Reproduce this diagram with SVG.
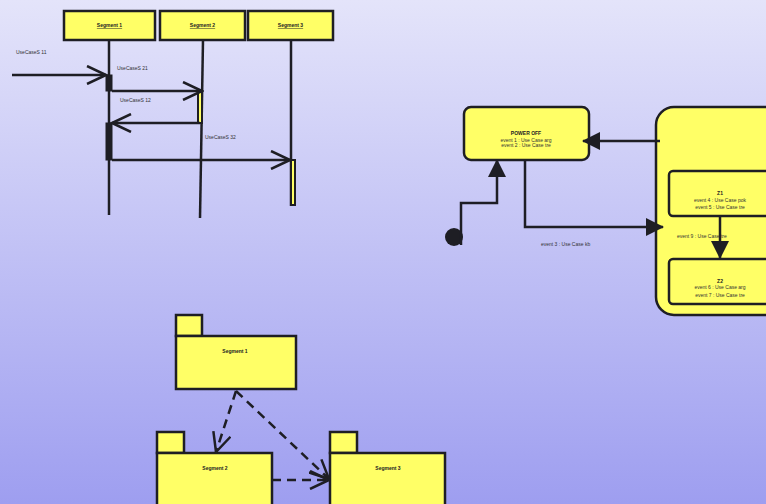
<svg xmlns="http://www.w3.org/2000/svg" width="766" height="504" viewBox="0 0 766 504">
<defs>
<linearGradient id="bg" x1="0" y1="0" x2="0" y2="1">
<stop offset="0" stop-color="#e4e4fa"/>
<stop offset="1" stop-color="#9e9ef0"/>
</linearGradient>
<marker id="open" viewBox="0 0 22 20" refX="20" refY="10" markerWidth="22" markerHeight="20" markerUnits="userSpaceOnUse" orient="auto">
<path d="M1,1 L20,10 L1,19" fill="none" stroke="#1e1e24" stroke-width="2.5"/>
</marker>
<marker id="filled" viewBox="0 0 18 18" refX="17" refY="9" markerWidth="18" markerHeight="18" markerUnits="userSpaceOnUse" orient="auto">
<path d="M0,0 L18,9 L0,18 Z" fill="#1e1e24"/>
</marker>
</defs>
<style>
.box{fill:#ffff66;stroke:#1e1e24;stroke-width:2.5}
.ln{fill:none;stroke:#1e1e24;stroke-width:2.5}
.dash{fill:none;stroke:#1e1e24;stroke-width:2.5;stroke-dasharray:9 6}
.t{font-family:"Liberation Sans",Arial,sans-serif;font-size:5px;fill:#333}
.b{font-family:"Liberation Sans",Arial,sans-serif;font-size:5px;font-weight:bold;fill:#222}
.act{fill:#1e1e24;stroke:#1e1e24;stroke-width:1}
</style>
<rect width="766" height="504" fill="url(#bg)"/>

<!-- Sequence diagram -->
<g id="seg1-head"><rect class="box" x="64" y="11" width="91" height="29"/><text class="b" x="109.5" y="27" text-anchor="middle" text-decoration="underline">Segment 1</text></g>
<g id="seg2-head"><rect class="box" x="160" y="11" width="85" height="29"/><text class="b" x="202.5" y="27" text-anchor="middle" text-decoration="underline">Segment 2</text></g>
<g id="seg3-head"><rect class="box" x="248" y="11" width="85" height="29"/><text class="b" x="290.5" y="27" text-anchor="middle" text-decoration="underline">Segment 3</text></g>
<g id="lifelines">
<line class="ln" x1="109" y1="40" x2="109" y2="215"/>
<line class="ln" x1="203" y1="40" x2="200" y2="218"/>
<line class="ln" x1="291" y1="40" x2="291" y2="206"/>
</g>
<g id="activations">
<rect class="act" x="106" y="75" width="6" height="16"/>
<rect class="box" x="198" y="91" width="4" height="32" style="stroke-width:2"/>
<rect class="act" x="106" y="123" width="6" height="37"/>
<rect class="box" x="291" y="160" width="4" height="45" style="stroke-width:2"/>
</g>
<g id="messages">
<line class="ln" x1="12" y1="75" x2="106" y2="75" marker-end="url(#open)"/>
<text class="t" x="16" y="54">UseCaseS 11</text>
<line class="ln" x1="112" y1="91" x2="202" y2="91" marker-end="url(#open)"/>
<text class="t" x="117" y="70">UseCaseS 21</text>
<line class="ln" x1="200" y1="123" x2="112" y2="123" marker-end="url(#open)"/>
<text class="t" x="120" y="102">UseCaseS 12</text>
<line class="ln" x1="112" y1="160" x2="290" y2="160" marker-end="url(#open)"/>
<text class="t" x="205" y="139">UseCaseS 32</text>
</g>

<!-- State diagram -->
<g id="poweroff"><rect class="box" x="464" y="107" width="125" height="53" rx="7"/>
<text class="b" x="526" y="135" text-anchor="middle">POWER OFF</text>
<text class="t" x="526" y="141.5" text-anchor="middle">event 1 : Use Case arg</text>
<text class="t" x="526" y="147" text-anchor="middle">event 2 : Use Case tre</text></g>
<g id="initial"><circle cx="454" cy="237" r="9" fill="#1e1e24"/></g>
<g id="composite"><rect class="box" x="656" y="107" width="130" height="208" rx="18"/></g>
<g id="z1"><rect class="box" x="669" y="171" width="110" height="45" rx="4"/>
<text class="b" x="720" y="194.5" text-anchor="middle">Z1</text>
<text class="t" x="720" y="202" text-anchor="middle">event 4 : Use Case pok</text>
<text class="t" x="720" y="208.5" text-anchor="middle">event 5 : Use Case tre</text></g>
<g id="z2"><rect class="box" x="669" y="259" width="110" height="45" rx="4"/>
<text class="b" x="720" y="282.5" text-anchor="middle">Z2</text>
<text class="t" x="720" y="289" text-anchor="middle">event 6 : Use Case arg</text>
<text class="t" x="720" y="297" text-anchor="middle">event 7 : Use Case tre</text></g>
<g id="state-transitions">
<polyline class="ln" points="461,245 461,203 497,203 497,160" marker-end="url(#filled)"/>
<polyline class="ln" points="525,160 525,227 663,227" marker-end="url(#filled)"/>
<text class="t" x="541" y="245.5">event 3 : Use Case kb</text>
<line class="ln" x1="660" y1="141" x2="583" y2="141" marker-end="url(#filled)"/>
<line class="ln" x1="720" y1="216" x2="720" y2="258" marker-end="url(#filled)"/>
<text class="t" x="677" y="238">event 9 : Use Case tre</text>
</g>

<!-- Package diagram -->
<g id="pkg1"><rect class="box" x="176" y="315" width="26" height="21"/><rect class="box" x="176" y="336" width="120" height="53"/>
<text class="b" x="235" y="353" text-anchor="middle">Segment 1</text></g>
<g id="pkg2"><rect class="box" x="157" y="432" width="27" height="21"/><rect class="box" x="157" y="453" width="115" height="60"/>
<text class="b" x="215" y="470" text-anchor="middle">Segment 2</text></g>
<g id="pkg3"><rect class="box" x="330" y="432" width="27" height="21"/><rect class="box" x="330" y="453" width="115" height="60"/>
<text class="b" x="388" y="470" text-anchor="middle">Segment 3</text></g>
<g id="pkg-deps">
<line class="dash" x1="236" y1="391" x2="216" y2="452" marker-end="url(#open)"/>
<line class="dash" x1="236" y1="391" x2="329" y2="479" marker-end="url(#open)"/>
<line class="dash" x1="272" y1="480" x2="329" y2="480" marker-end="url(#open)"/>
</g>
</svg>
